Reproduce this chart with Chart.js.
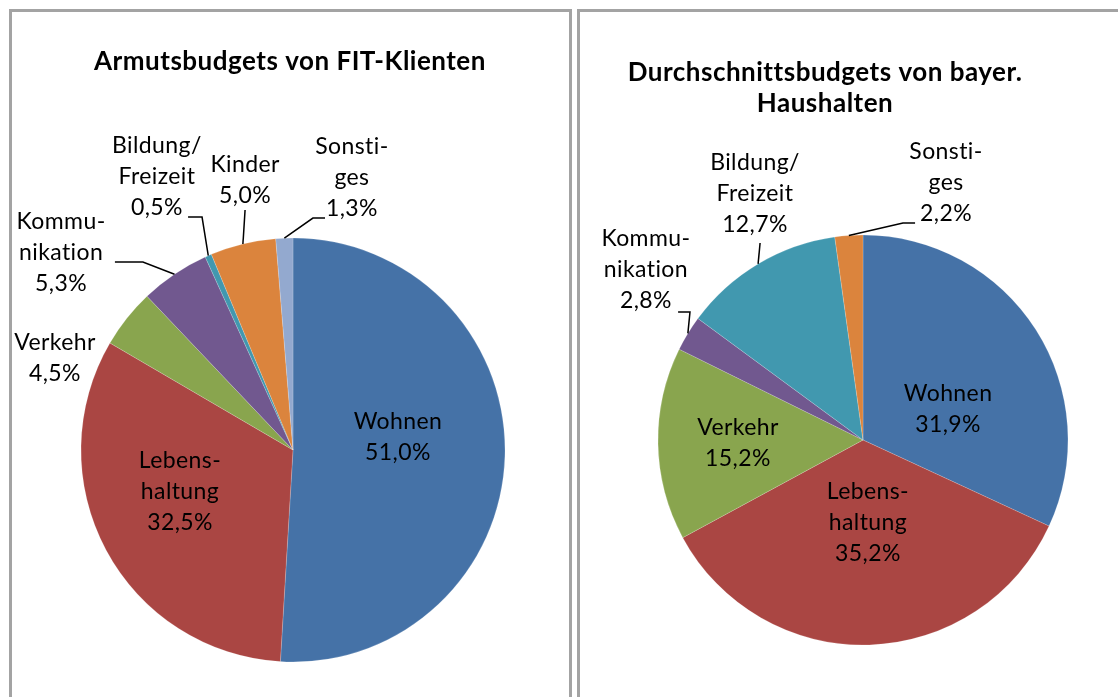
<!DOCTYPE html>
<html>
<head>
<meta charset="utf-8">
<script src="https://cdn.jsdelivr.net/npm/chart.js@4.4.0/dist/chart.umd.min.js"></script>
<style>
  body { margin: 0; background: #fff; width: 1118px; height: 697px; overflow: hidden; position: relative; }
  .rahmen { position: absolute; top: 9px; height: 720px; box-sizing: border-box; border: 3px solid #a3a3a3; }
  .feld { position: absolute; top: 12px; height: 685px; }
</style>
</head>
<body>
<div class="rahmen" style="left:9px; width:563px;"></div>
<div class="rahmen" style="left:577px; width:600px;"></div>
<div class="feld" style="left:12px; width:556px;"><canvas id="fitChart"></canvas></div>
<div class="feld" style="left:580px; width:538px;"><canvas id="bayChart"></canvas></div>
<script>
// Daten: Armutsbudgets von FIT-Klienten
const kategorienFit = ['Wohnen', 'Lebenshaltung', 'Verkehr', 'Kommunikation', 'Bildung/Freizeit', 'Kinder', 'Sonstiges'];
const werteFit = [51.0, 32.5, 4.5, 5.3, 0.5, 5.0, 1.3];

// Daten: Durchschnittsbudgets von bayer. Haushalten
const kategorienBay = ['Wohnen', 'Lebenshaltung', 'Verkehr', 'Kommunikation', 'Bildung/Freizeit', 'Sonstiges'];
const werteBay = [31.9, 35.2, 15.2, 2.8, 12.7, 2.2];

const farbenFit = ['#4572A7', '#AA4643', '#89A54E', '#71588F', '#4198AF', '#DB843D', '#93A9CF'];
const farbenBay = ['#4572A7', '#AA4643', '#89A54E', '#71588F', '#4198AF', '#DB843D'];

const SCHRIFT = 'Lato, "Open Sans", sans-serif';

// Beschriftungen: Zeilen + Lage relativ zum Mittelpunkt (in Radien), optional Fuehrungslinie
const beschriftungFit = [
  { zeilen: ['Wohnen'], pos: [0.495, -0.061] },
  { zeilen: ['Lebens-', 'haltung'], pos: [-0.533, 0.198] },
  { zeilen: ['Verkehr'], pos: [-1.123, -0.434] },
  { zeilen: ['Kommu-', 'nikation'], pos: [-1.094, -0.929], linie: [[-0.840, -0.887], [-0.708, -0.887]] },
  { zeilen: ['Bildung/', 'Freizeit'], pos: [-0.642, -1.292], linie: [[-0.495, -1.099], [-0.429, -1.099]] },
  { zeilen: ['Kinder'], pos: [-0.226, -1.274], linie: [[-0.226, -1.132]] },
  { zeilen: ['Sonsti-', 'ges'], pos: [0.278, -1.285], linie: [[0.151, -1.094], [0.094, -1.094]] }
];
const beschriftungBay = [
  { zeilen: ['Wohnen'], pos: [0.415, -0.151] },
  { zeilen: ['Lebens-', 'haltung'], pos: [0.024, 0.405] },
  { zeilen: ['Verkehr'], pos: [-0.610, 0.015] },
  { zeilen: ['Kommu-', 'nikation'], pos: [-1.059, -0.829], linie: [[-0.902, -0.624], [-0.844, -0.624]] },
  { zeilen: ['Bildung/', 'Freizeit'], pos: [-0.527, -1.2], linie: [[-0.502, -0.961]] },
  { zeilen: ['Sonsti-', 'ges'], pos: [0.405, -1.254], linie: [[0.254, -1.059], [0.195, -1.059]] }
];

const prozent = v => v.toFixed(1).replace('.', ',') + '%';

// Plugin fuer Titel und Datenbeschriftungen
const beschriftungPlugin = {
  id: 'beschriftung',
  afterDatasetsDraw(chart, args, opts) {
    const ctx = chart.ctx;
    const meta = chart.getDatasetMeta(0);
    const werte = chart.data.datasets[0].data;
    ctx.save();
    ctx.fillStyle = '#000';
    ctx.textAlign = 'center';
    ctx.textBaseline = 'middle';

    // Titel
    ctx.font = 'bold 26px ' + SCHRIFT;
    ctx.letterSpacing = '0.5px';
    opts.titel.forEach((zeile, i) => {
      ctx.fillText(zeile, opts.titelX, opts.titelY + i * 31);
    });

    ctx.font = '23px ' + SCHRIFT;
    ctx.letterSpacing = '0.4px';
    meta.data.forEach((arc, i) => {
      const b = opts.liste[i];
      const r = arc.outerRadius;
      const mitte = (arc.startAngle + arc.endAngle) / 2;
      const zeilen = b.zeilen.concat([prozent(werte[i])]);
      const x = arc.x + b.pos[0] * r;
      const y0 = arc.y + b.pos[1] * r - (zeilen.length - 1) * 31 / 2;
      zeilen.forEach((z, k) => ctx.fillText(z, x, y0 + k * 31));

      if (b.linie) {
        ctx.strokeStyle = '#000';
        ctx.lineWidth = 1.5;
        ctx.beginPath();
        b.linie.forEach((p, k) => {
          const px = arc.x + p[0] * r;
          const py = arc.y + p[1] * r;
          if (k === 0) ctx.moveTo(px, py); else ctx.lineTo(px, py);
        });
        ctx.lineTo(arc.x + Math.cos(mitte) * r, arc.y + Math.sin(mitte) * r);
        ctx.stroke();
      }
    });
    ctx.restore();
  }
};

function kuchen(id, kategorien, werte, farben, radius, padding, plug) {
  return new Chart(document.getElementById(id), {
    type: 'pie',
    data: {
      labels: kategorien,
      datasets: [{
        data: werte,
        backgroundColor: farben,
        borderColor: 'rgba(255,255,255,0.35)',
        borderWidth: 0.5
      }]
    },
    options: {
      responsive: true,
      maintainAspectRatio: false,
      animation: false,
      radius: radius,
      layout: { padding: padding },
      plugins: {
        legend: { display: false },
        title: { display: false },
        tooltip: { enabled: true },
        beschriftung: plug
      }
    },
    plugins: [beschriftungPlugin]
  });
}

kuchen('fitChart', kategorienFit, werteFit, farbenFit, 212,
  { left: 69, right: 63, top: 226, bottom: 35 },
  { titel: ['Armutsbudgets von FIT-Klienten'], titelX: 278, titelY: 50, liste: beschriftungFit });

kuchen('bayChart', kategorienBay, werteBay, farbenBay, 205,
  { left: 78, right: 50, top: 223, bottom: 52 },
  { titel: ['Durchschnittsbudgets von bayer.', 'Haushalten'], titelX: 245, titelY: 61, liste: beschriftungBay });
</script>
</body>
</html>
